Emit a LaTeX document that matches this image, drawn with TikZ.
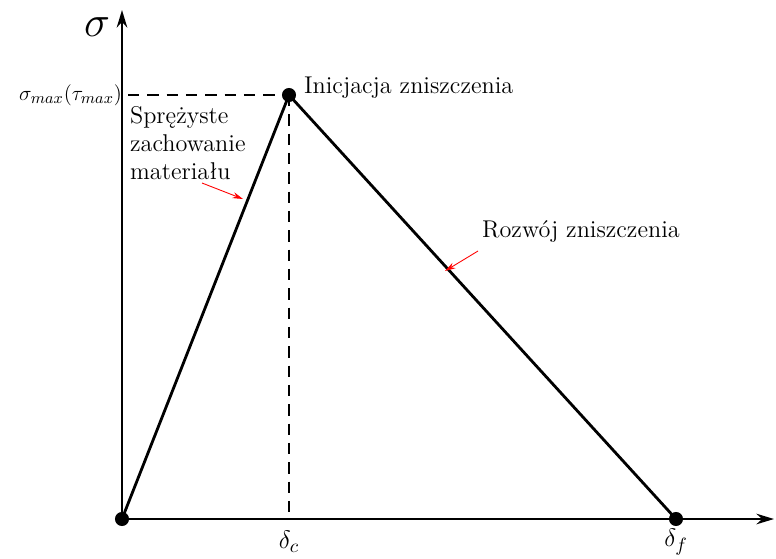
\documentclass[tikz,border=0pt]{standalone}
\usetikzlibrary{arrows.meta}
\begin{document}
\begin{tikzpicture}[x=0.02cm,y=-0.02cm,
  axis/.style={line width=1.4pt,-{Stealth[length=10pt,width=6pt]}},
  curve/.style={line width=1.6pt},
  guide/.style={line width=1.7pt,dash pattern=on 6.5pt off 4.5pt},
  dot/.style={circle,fill=black,inner sep=0pt,minimum size=8pt},
  lbl/.style={font=\fontsize{13.8}{16}\selectfont,inner sep=1pt},
  pointer/.style={red,line width=0.5pt,-{Stealth[length=6pt,width=3.5pt]}}]
\useasboundingbox (0,0) rectangle (776,558);
\coordinate (O) at (122,519);
\coordinate (ytop) at (122,10);
\coordinate (xend) at (774,519);
\node[dot] (o) at (O) {};
\node[dot] (peak) at (289,95) {};
\node[dot] (f) at (676,519) {};
\coordinate (c) at (289,519);
\coordinate (ys) at (128,95);
\draw[axis] (O) -- (ytop);
\draw[axis] (O) -- (xend);
\draw[curve] (o.center) -- (peak.center) -- (f.center);
\draw[guide] (ys) -- (peak.center);
\draw[guide] (peak.center) -- (c);
\node (sig) at (97,27) {\fontsize{28}{30}\selectfont$\sigma$};
\node[anchor=east,inner sep=1pt] (smax) at (124,95) {\fontsize{12.5}{14}\selectfont$\sigma_{max}(\tau_{max})$};
\node[lbl,anchor=west] (ini) at (302,88) {Inicjacja zniszczenia};
\node[lbl,anchor=west] (roz) at (480,232) {Rozwój zniszczenia};
\node[lbl,anchor=north west,align=left] (spr) at (128,104) {Sprężyste\\zachowanie\\materiału};
\coordinate (p1s) at (202,183);
\coordinate (p1e) at (243,199);
\coordinate (p2s) at (478,251);
\coordinate (p2e) at (445,271);
\draw[pointer] (p1s) -- (p1e);
\draw[pointer] (p2s) -- (p2e);
\node (dc) at (289,542) {\fontsize{15}{17}\selectfont$\delta_c$};
\node (df) at (676,542) {\fontsize{15}{17}\selectfont$\delta_f$};
\end{tikzpicture}
\end{document}
